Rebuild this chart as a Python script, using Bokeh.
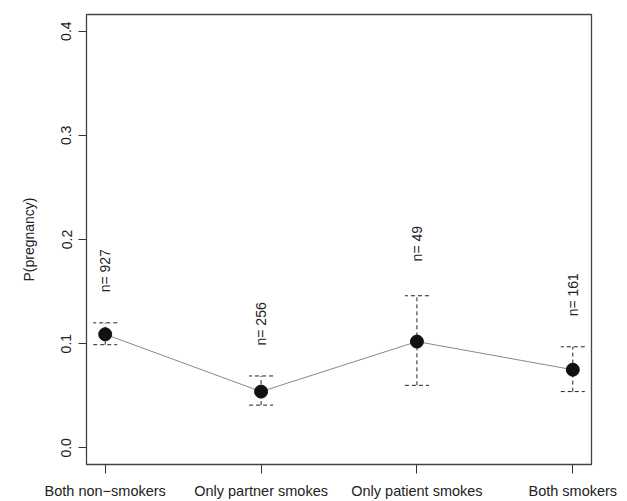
from bokeh.plotting import figure
from bokeh.models import ColumnDataSource, FixedTicker, PrintfTickFormatter, Whisker, TeeHead, Range1d
from bokeh.embed import file_html
from bokeh.resources import INLINE
from bokeh.core.properties import value
import math

categories = ["Both non\u2212smokers", "Only partner smokes", "Only patient smokes", "Both smokers"]
p_preg = [0.109, 0.054, 0.102, 0.075]
lower = [0.099, 0.041, 0.060, 0.054]
upper = [0.120, 0.069, 0.146, 0.097]
n_obs = [927, 256, 49, 161]
y_ticks = [0.0, 0.1, 0.2, 0.3, 0.4]

xpos = list(range(1, len(categories) + 1))
label_offset = 0.05
src = ColumnDataSource(dict(
    x=xpos, p=p_preg, lo=lower, hi=upper,
    ny=[u + label_offset for u in upper],
    nt=["n= %d" % n for n in n_obs],
))

FONT = "Liberation Sans"

p = figure(width=627, height=501, output_backend="svg", toolbar_location=None,
           x_range=Range1d(0.88, 4.12), y_range=Range1d(-0.016, 0.416),
           min_border_left=86, min_border_right=36, min_border_top=14, min_border_bottom=36)
p.grid.visible = False
p.outline_line_color = "#444444"
p.outline_line_width = 1.3
p.background_fill_color = "white"
p.border_fill_color = "white"

# axes
p.yaxis.ticker = FixedTicker(ticks=y_ticks)
p.yaxis.formatter = PrintfTickFormatter(format="%.1f")
p.yaxis.major_label_orientation = "vertical"
p.yaxis.axis_label = "P(pregnancy)"
p.yaxis.axis_label_text_font_style = "normal"
p.yaxis.axis_label_text_font = FONT
p.yaxis.axis_label_text_font_size = "14px"
p.yaxis.axis_label_text_color = "#222222"
p.yaxis.axis_label_standoff = 22
p.yaxis.major_label_standoff = 7

p.xaxis.ticker = FixedTicker(ticks=xpos)
p.xaxis.major_label_overrides = {x: c for x, c in zip(xpos, categories)}
p.xaxis.major_label_standoff = 9

for ax in (p.xaxis, p.yaxis):
    ax.major_label_text_font = FONT
    ax.major_label_text_font_size = "14px"
    ax.major_label_text_color = "#222222"
    ax.axis_line_color = "#444444"
    ax.major_tick_line_color = "#333333"
    ax.major_tick_in = 0
    ax.major_tick_out = 8
    ax.minor_tick_line_color = None
p.xaxis.major_label_text_font_size = "14.5px"
p.xaxis.major_tick_out = 9

# connecting line
p.line("x", "p", source=src, line_color="#888888", line_width=1)

# error bars
p.add_layout(Whisker(source=src, base="x", lower="lo", upper="hi",
                     line_color="#222222", line_width=1, line_dash="4 3",
                     upper_head=TeeHead(size=24, line_color="#222222", line_width=1, line_dash="4 3"),
                     lower_head=TeeHead(size=24, line_color="#222222", line_width=1, line_dash="4 3")))

# points
p.scatter("x", "p", source=src, size=13, fill_color="#111111", line_color="#111111")

# n labels
p.text("x", "ny", text="nt", source=src, angle=math.pi / 2,
       text_align="center", text_baseline="middle",
       text_font=value(FONT), text_font_size="14px", text_color="#222222")

open("out.html", "w").write(file_html(p, INLINE))
